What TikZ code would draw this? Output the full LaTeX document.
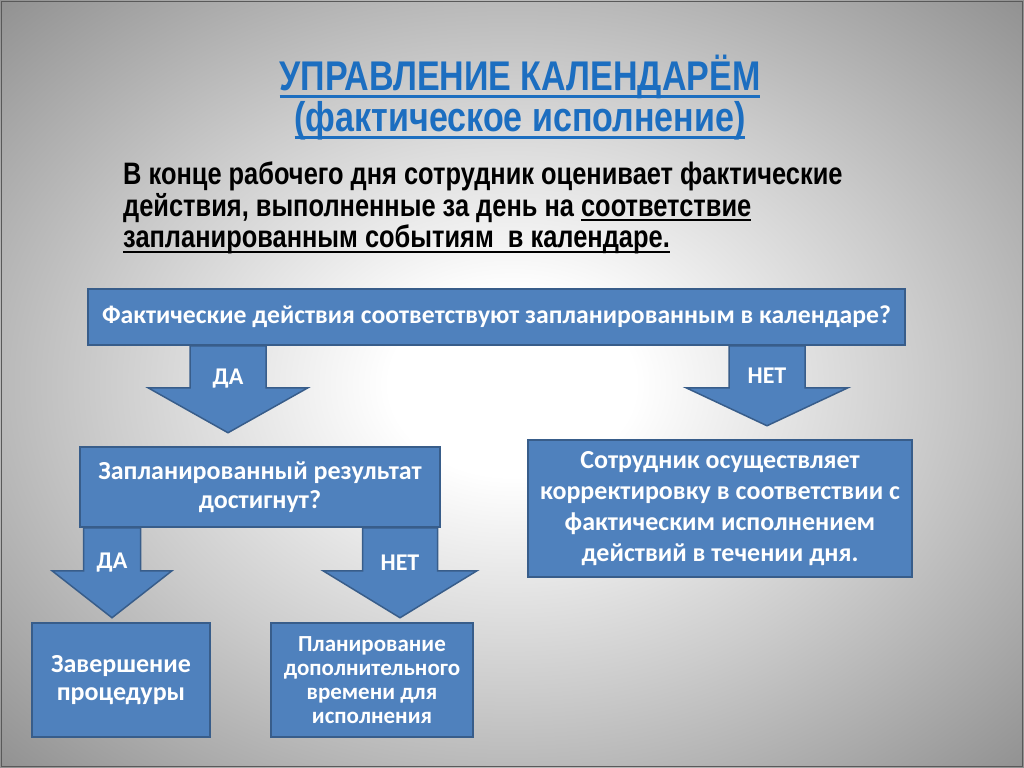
\documentclass[tikz,border=0pt]{standalone}
\usepackage{fontspec}
\setmainfont{Carlito}
\newfontfamily\narrowfont[FakeStretch=0.82]{Liberation Sans}
\usetikzlibrary{positioning}

\definecolor{boxblue}{HTML}{4F81BD}
\definecolor{boxline}{HTML}{385D8A}
\definecolor{titleblue}{HTML}{1C6EC0}
\definecolor{bgmid}{gray}{0.80}
\definecolor{bgedge}{gray}{0.56}
\pgfdeclareradialshading{slidebg}{\pgfpoint{0bp}{0bp}}{color(0bp)=(white); color(6bp)=(white); color(20bp)=(bgmid); color(36bp)=(bgedge); color(50bp)=(bgedge)}

% underline of a given depth and thickness
\newcommand{\ulbar}[1]{\setbox0=\hbox{#1}\leavevmode
  \rlap{\smash{\raisebox{-0.16em}{\rule{\wd0}{0.065em}}}}\box0}

% block arrow pointing down: top point, half shaft, half head, neck, head length, label drop, label
\newcommand{\blockdown}[7]{%
  \draw[arrowbody] (#1) ++(-#2,0) -- ++(0,#4) -- ++({#2-#3},0) -- ++(#3,#5)
    -- ++(#3,-#5) -- ++({#2-#3},0) -- ++(0,-#4) -- cycle;
  \path (#1) ++(0,#6) node[arrowtext] (#1-lbl) {#7};}

\begin{document}
\begin{tikzpicture}[
  x=1bp, y=-1bp,
  box/.style={draw=boxline, line width=1.5bp, fill=boxblue, text=white,
    align=center, inner sep=0pt},
  arrowbody/.style={draw=boxline, line width=1.5bp, fill=boxblue},
  arrowtext/.style={text=white, font=\bfseries\fontsize{24bp}{26bp}\selectfont},
  titletext/.style={text=titleblue, align=center,
    font=\narrowfont\bfseries\fontsize{41.5bp}{41bp}\selectfont},
  bodytext/.style={align=left, inner sep=0pt,
    font=\narrowfont\bfseries\fontsize{31bp}{31.5bp}\selectfont}
]
  \useasboundingbox (0,0) rectangle (1024,768);
  \shade[shading=slidebg] (0,0) rectangle (1024,768);
  \draw[black!65, line width=1.5bp] (1.5,1.5) rectangle (1022.5,766.5);

  % headings
  \node[titletext] (title) at (520,98)
    {\ulbar{УПРАВЛЕНИЕ КАЛЕНДАРЁМ}\\\ulbar{(фактическое исполнение)}};
  \node[bodytext, anchor=west] (intro) at (123,208)
    {В конце рабочего дня сотрудник оценивает фактические\\
     действия, выполненные за день на \ulbar{соответствие}\\
     \ulbar{запланированным событиям\ \ в календаре.}};

  % boxes
  \node[box, minimum width=817bp, minimum height=56bp,
    font=\bfseries\fontsize{25.7bp}{28bp}\selectfont] (q1) at (496.5,317)
    {Фактические действия соответствуют запланированным в календаре?};
  \node[box, minimum width=360bp, minimum height=80bp,
    font=\bfseries\fontsize{26bp}{29.5bp}\selectfont] (q2) at (260,487)
    {Запланированный результат\\достигнут?};
  \node[box, minimum width=384bp, minimum height=137bp,
    font=\bfseries\fontsize{26bp}{31bp}\selectfont] (fix) at (720,508.5)
    {Сотрудник осуществляет\\корректировку в соответствии с\\фактическим исполнением\\действий в течении дня.};
  \node[box, minimum width=178bp, minimum height=114bp,
    font=\bfseries\fontsize{26bp}{28bp}\selectfont] (done) at (121,680)
    {Завершение\\процедуры};
  \node[box, minimum width=202bp, minimum height=114bp,
    font=\bfseries\fontsize{23bp}{24bp}\selectfont] (plan) at (372,680)
    {Планирование\\дополнительного\\времени для\\исполнения};

  % arrows
  \path (q1.south) +(-268.5,0) coordinate (yes1);
  \path (q1.south) +(270.5,0) coordinate (no1);
  \path (q2.south) +(-148,0) coordinate (yes2);
  \path (q2.south) +(140,0) coordinate (no2);

  \blockdown{yes1}{38}{80}{42}{45}{33}{ДА}
  \blockdown{no1}{38}{81}{42}{38}{30}{НЕТ}
  \blockdown{yes2}{28.5}{60}{43}{47}{35}{ДА}
  \blockdown{no2}{37.5}{77}{43}{47}{35}{НЕТ}

\end{tikzpicture}
\end{document}
